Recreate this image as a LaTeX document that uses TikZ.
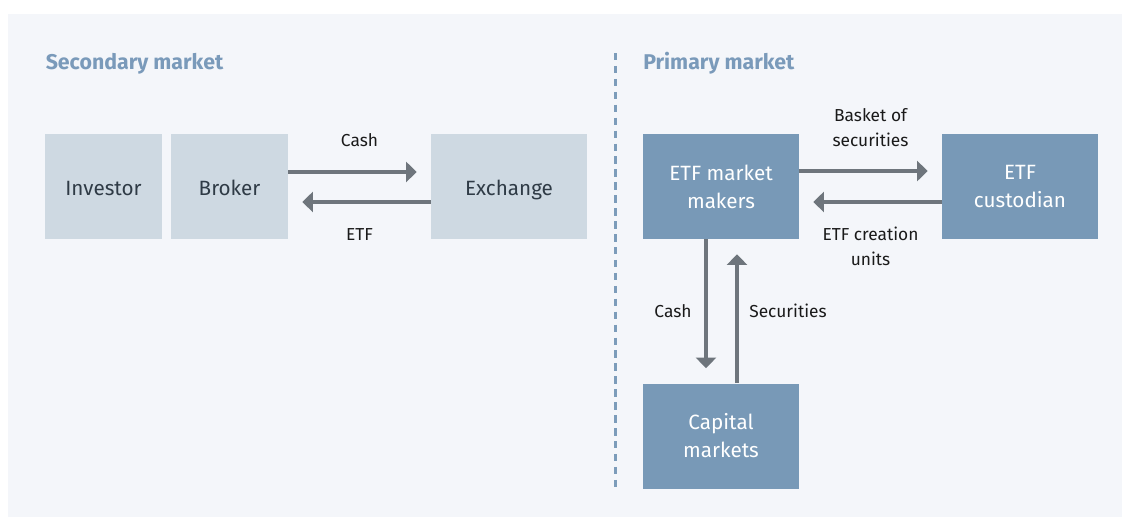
\documentclass[tikz,border=0pt]{standalone}
\usepackage{fontspec}
\setmainfont{Fira Sans}
\usetikzlibrary{arrows.meta,calc}

\definecolor{panelbg}{HTML}{F4F6FA}
\definecolor{lightfill}{HTML}{CED9E2}
\definecolor{darkfill}{HTML}{7899B7}
\definecolor{headcol}{HTML}{7A9ABA}
\definecolor{flowgray}{HTML}{6E757C}
\definecolor{boxtext}{HTML}{2F3B46}
\definecolor{labeltext}{HTML}{1A1A1A}
\definecolor{divider}{HTML}{7C9CBA}

\tikzset{
  box/.style={rectangle, inner sep=0pt, minimum height=78.75pt, align=center,
              font=\fontsize{15.5}{21}\selectfont},
  lightbox/.style={box, fill=lightfill, text=boxtext,
                   text height=14pt, text depth=0pt},
  darkbox/.style={box, fill=darkfill, text=white},
  flow/.style={draw=flowgray, line width=2.6pt,
               -{Triangle[length=8pt,width=15pt]}},
  lbl/.style={font=\fontsize{13}{18.75}\selectfont, text=labeltext,
              align=center, inner sep=0pt, anchor=base},
  heading/.style={font=\bfseries\fontsize{16}{18}\selectfont, text=headcol,
                  inner sep=0pt, anchor=base west},
}

\begin{document}
\begin{tikzpicture}[x=0.75pt, y=-0.75pt]
  \useasboundingbox (0,0) rectangle (1123,518);
  \fill[panelbg] (8,14) rectangle (1122,517);

  % divider between the two markets
  \draw[divider, line width=2.25pt, dash pattern=on 5.6pt off 4.1pt]
    (615,53) -- (615,488);

  % headings
  \node[heading] (sechead) at (45.5,69) {Secondary market};
  \node[heading] (prihead) at (643,69) {Primary market};

  % secondary market boxes
  \node[lightbox, minimum width=87.75pt] (investor) at (103.5,186.5) {Investor};
  \node[lightbox, minimum width=87.75pt] (broker)   at (229.5,186.5) {Broker};
  \node[lightbox, minimum width=117pt]   (exchange) at (509,186.5)   {Exchange};

  % primary market boxes
  \node[darkbox, minimum width=117pt] (makers)    at (721,186.5)  {ETF market\\makers};
  \node[darkbox, minimum width=117pt] (custodian) at (1020,186.5) {ETF\\custodian};
  \node[darkbox, minimum width=117pt] (capital)   at (721,436)    {Capital\\markets};

  % secondary market flows
  \draw[flow, shorten >=10.5pt]
    ([yshift=10.9pt]broker.east) -- ([yshift=10.9pt]exchange.west);
  \draw[flow, shorten >=10.5pt]
    ([yshift=-11.6pt]exchange.west) -- ([yshift=-11.6pt]broker.east);
  \node[lbl] (cashlbl) at (359.5,146) {Cash};
  \node[lbl] (etflbl)  at (359.5,240) {ETF};

  % primary market flows
  \draw[flow, shorten >=10.5pt]
    ([yshift=11.6pt]makers.east) -- ([yshift=11.6pt]custodian.west);
  \draw[flow, shorten >=10.5pt]
    ([yshift=-11.6pt]custodian.west) -- ([yshift=-11.6pt]makers.east);
  \node[lbl] (basketlbl)   at (870.5,146) {Basket of\\securities};
  \node[lbl] (creationlbl) at (870.5,265) {ETF creation\\units};

  \draw[flow, shorten >=11.25pt]
    ([xshift=-11.25pt]makers.south) -- ([xshift=-11.25pt]capital.north);
  \draw[flow, shorten >=11.25pt]
    ([xshift=12pt]capital.north) -- ([xshift=12pt]makers.south);
  \node[lbl] (cashvlbl) at (673,317) {Cash};
  \node[lbl] (seclbl)   at (788,317) {Securities};
\end{tikzpicture}
\end{document}
